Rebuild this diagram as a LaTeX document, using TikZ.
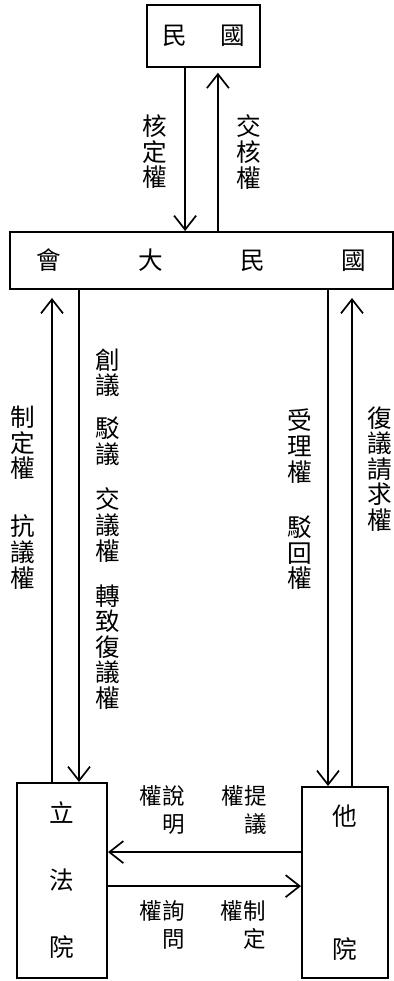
\documentclass[tikz,border=0pt]{standalone}
\usepackage{fontspec}
\newfontfamily\cjkfont{Noto Sans CJK TC}
\usepackage{tikz}
\usetikzlibrary{arrows.meta,positioning}
\tikzset{
  boxNode/.style = {draw=black, line width=1.4pt, align=center, inner sep=0pt,
    font=\cjkfont\fontsize{17.5}{18.2}\selectfont},% cadre
  powerNode/.style = {align=center, inner sep=0pt,
    font=\cjkfont\fontsize{17.5}{18.2}\selectfont},% texte vertical
  pairNode/.style = {align=right, inner sep=0pt,
    font=\cjkfont\fontsize{16}{20}\selectfont},% deux colonnes
}
\begin{document}
\begin{tikzpicture}[->,>={Straight Barb[length=3.5mm,width=5.5mm]},x=0.025cm,y=-0.025cm,
  line width=1.2pt]
\useasboundingbox (0,0) rectangle (394,981);
\node [boxNode, minimum width=2.825cm, minimum height=1.55cm] (minguo) at (203.5,36) {民\hspace{0.83cm}國};
\node [boxNode, minimum width=9.575cm, minimum height=1.425cm] (guomin) at (201.5,260.5)
  {會\hspace{1.93cm}大\hspace{1.93cm}民\hspace{1.93cm}國};
\node [boxNode, minimum width=2.25cm, minimum height=4.875cm] (lifa) at (62,880.5) {立\\[1.035cm]法\\[1.035cm]院};
\node [boxNode, minimum width=2.15cm, minimum height=4.775cm] (tayuan) at (345,882.5) {他\\[2.685cm]院};

\draw ([xshift=-0.46cm]minguo.south) -- ([xshift=-0.46cm]minguo.south |- guomin.north);
\draw [shorten >=0.12cm] ([xshift=0.36cm]minguo.south |- guomin.north) -- ([xshift=0.36cm]minguo.south);
\draw [shorten >=0.2cm] ([xshift=-0.25cm]lifa.north) -- ([xshift=-0.25cm]lifa.north |- guomin.south);
\draw ([xshift=0.425cm]lifa.north |- guomin.south) -- ([xshift=0.425cm]lifa.north);
\draw ([xshift=-0.425cm]tayuan.north |- guomin.south) -- ([xshift=-0.425cm]tayuan.north);
\draw [shorten >=0.2cm] ([xshift=0.175cm]tayuan.north) -- ([xshift=0.175cm]tayuan.north |- guomin.south);
\draw ([yshift=0.76cm]tayuan.west) -- ([yshift=0.76cm]tayuan.west -| lifa.east);
\draw ([yshift=-0.14cm]lifa.east) -- ([yshift=-0.14cm]lifa.east -| tayuan.west);

\node [powerNode] (heding) at (155,152) {核\\定\\權};
\node [powerNode] (jiaohe) at (249,152) {交\\核\\權};
\node [powerNode] (zhiding) at (23,443) {制\\定\\權};
\node [powerNode] (kangyi) at (23,552) {抗\\議\\權};
\node [powerNode] (chuangyi) at (108,373) {創\\議};
\node [powerNode] (boyi) at (108,441) {駁\\議};
\node [powerNode] (jiaoyi) at (108,525) {交\\議\\權};
\node [powerNode] (zhuanzhi) at (108,647) {轉\\致\\復\\議\\權};
\node [powerNode] (shouli) at (300,446) {受\\理\\權};
\node [powerNode] (bohui) at (300,553) {駁\\回\\權};
\node [powerNode] (fuyi) at (380,469) {復\\議\\請\\求\\權};
\node [pairNode] (shuoming) at (162,810) {權說\\明};
\node [pairNode] (tiyi) at (244,810) {權提\\議};
\node [pairNode] (xunwen) at (162,925) {權詢\\問};
\node [pairNode] (zhidingquan) at (243,925) {權制\\定};
\end{tikzpicture}
\end{document}
